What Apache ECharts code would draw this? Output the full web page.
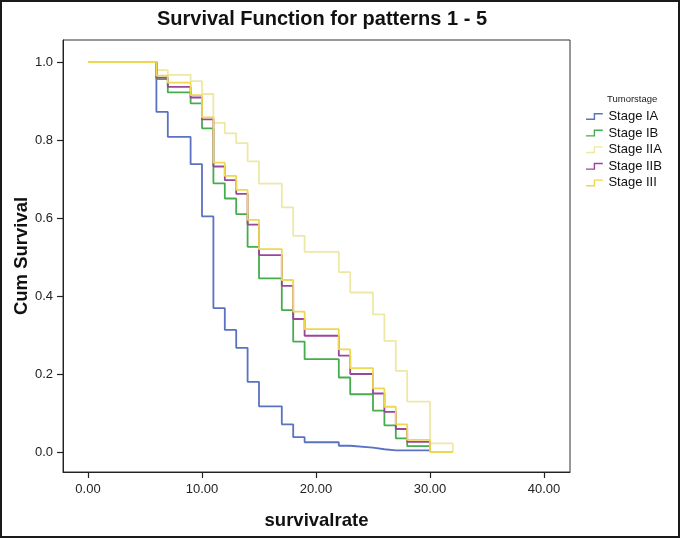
<!DOCTYPE html>
<html>
<head>
<meta charset="utf-8">
<script src="https://cdn.jsdelivr.net/npm/echarts@6/dist/echarts.min.js"></script>
<style>
html,body{margin:0;padding:0;background:#fff;}
#chart{width:680px;height:538px;}
</style>
</head>
<body>
<div id="chart"></div>
<script>
// ---- data ----
var times = [0, 6, 7, 9, 10, 11, 12, 13, 14, 15, 17, 18, 19, 22, 23, 25, 26, 27, 28, 30, 32];
var stageIA  = [1, 0.872, 0.808, 0.738, 0.604, 0.369, 0.313, 0.267, 0.180, 0.117, 0.071, 0.038, 0.025, 0.016, 0.011, 0.007, 0.004, 0.004, 0.004, 0, null];
var stageIB  = [1, 0.956, 0.922, 0.894, 0.830, 0.689, 0.650, 0.610, 0.526, 0.445, 0.364, 0.283, 0.238, 0.191, 0.148, 0.106, 0.068, 0.035, 0.015, 0, null];
var stageIIA = [1, 0.979, 0.967, 0.951, 0.918, 0.844, 0.817, 0.792, 0.745, 0.688, 0.627, 0.554, 0.513, 0.461, 0.409, 0.353, 0.285, 0.208, 0.129, 0.022, 0];
var stageIIB = [1, 0.960, 0.936, 0.909, 0.853, 0.732, 0.697, 0.662, 0.583, 0.505, 0.426, 0.341, 0.298, 0.247, 0.200, 0.150, 0.103, 0.059, 0.026, 0, null];
var stageIII = [1, 0.965, 0.947, 0.915, 0.858, 0.742, 0.708, 0.672, 0.595, 0.520, 0.441, 0.360, 0.315, 0.263, 0.215, 0.163, 0.116, 0.071, 0.031, 0, 0];
var seriesNames = ['Stage IA', 'Stage IB', 'Stage IIA', 'Stage IIB', 'Stage III'];
var xTicks = [0, 10, 20, 30, 40];
var yTicks = [0, 0.2, 0.4, 0.6, 0.8, 1.0];

var FONT = '"Liberation Sans", Arial, Helvetica, sans-serif';
var colors = ['#5a72c2', '#46ad4e', '#eee8a6', '#9a459e', '#eed850'];
var values = [stageIA, stageIB, stageIIA, stageIIB, stageIII];

function toPairs(vals) {
  var out = [];
  for (var i = 0; i < times.length; i++) {
    if (vals[i] !== null) out.push([times[i], vals[i]]);
  }
  return out;
}

var drawOrder = [2, 0, 1, 3, 4];
var series = drawOrder.map(function (k) {
  return {
    name: seriesNames[k],
    type: 'line',
    step: 'end',
    data: toPairs(values[k]),
    showSymbol: false,
    symbol: 'none',
    lineStyle: { color: colors[k], width: 1.8 },
    itemStyle: { color: colors[k] },
    z: 2 + drawOrder.indexOf(k),
    animation: false
  };
});

var stepIcon = 'path://M0,8 L11,8 L11,0 L24,0 L24,2 L13,2 L13,10 L0,10 Z';

var chart = echarts.init(document.getElementById('chart'), null, { renderer: 'canvas' });
chart.setOption({
  backgroundColor: '#ffffff',
  animation: false,
  title: [
    {
      text: 'Survival Function for patterns 1 - 5',
      left: 317, top: 4, textAlign: 'center',
      textStyle: { fontFamily: FONT, fontSize: 20, fontWeight: 'bold', color: '#111' }
    },
    {
      text: 'Tumorstage',
      left: 602, top: 89,
      textStyle: { fontFamily: FONT, fontSize: 9.5, fontWeight: 'normal', color: '#222' }
    }
  ],
  legend: {
    data: seriesNames.map(function (n, i) {
      return { name: n, icon: stepIcon, itemStyle: { color: colors[i], borderWidth: 0 } };
    }),
    orient: 'vertical',
    left: 586, top: 110,
    itemWidth: 24, itemHeight: 7,
    itemGap: 3.6,
    padding: 0,
    selectedMode: false,
    textStyle: { fontFamily: FONT, fontSize: 13, color: '#111', lineHeight: 13, padding: [0, 0, 0, -3] }
  },
  grid: { left: 63, right: 110, top: 40, bottom: 66, containLabel: false, outerBoundsMode: 'none',
    show: true, borderColor: '#333', borderWidth: 1, backgroundColor: 'transparent' },
  xAxis: {
    type: 'value',
    min: -2.193, max: 42.28,
    name: 'survivalrate', nameLocation: 'middle', nameGap: 39, nameMoveOverlap: false,
    nameTextStyle: { fontFamily: FONT, fontSize: 18.5, fontWeight: 'bold', color: '#111' },
    axisLine: { show: true, onZero: false, lineStyle: { color: '#222', width: 1 } },
    axisTick: { show: true, length: 6, customValues: xTicks, lineStyle: { color: '#222', width: 1.2 } },
    axisLabel: { fontFamily: FONT, fontSize: 13, color: '#222', margin: 11, customValues: xTicks,
      formatter: function (v) { return Number(v).toFixed(2); } },
    splitLine: { show: false }
  },
  yAxis: {
    type: 'value',
    min: -0.0513, max: 1.0564,
    name: 'Cum Survival', nameLocation: 'middle', nameGap: 32, nameMoveOverlap: false,
    nameTextStyle: { fontFamily: FONT, fontSize: 18.5, fontWeight: 'bold', color: '#111' },
    axisLine: { show: true, onZero: false, lineStyle: { color: '#222', width: 1 } },
    axisTick: { show: true, length: 6, customValues: yTicks, lineStyle: { color: '#222', width: 1.2 } },
    axisLabel: { fontFamily: FONT, fontSize: 13, color: '#222', margin: 10, customValues: yTicks,
      formatter: function (v) { return Number(v).toFixed(1); } },
    splitLine: { show: false }
  },
  graphic: [
    { type: 'rect', shape: { x: 1, y: 1, width: 678, height: 536 },
      style: { fill: 'none', stroke: '#1a1a1a', lineWidth: 2 }, z: 1, silent: true }
  ],
  series: series
});
</script>
</body>
</html>
